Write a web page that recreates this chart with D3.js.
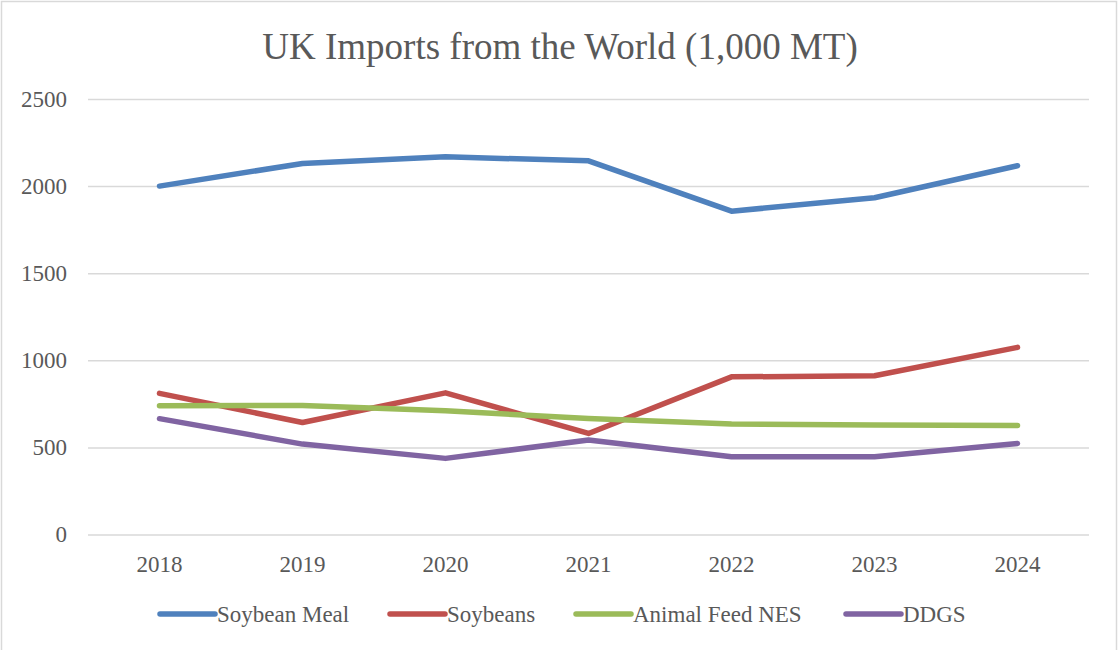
<!DOCTYPE html>
<html>
<head>
<meta charset="utf-8">
<script src="https://cdn.jsdelivr.net/npm/d3@7"></script>
<style>
    body { margin: 0; background: #fff; }
</style>
</head>
<body>
<div id="chart"></div>
<script>
`use strict`

// data
const years = ['2018', '2019', '2020', '2021', '2022', '2023', '2024'];
const seriesNames = ['Soybean Meal', 'Soybeans', 'Animal Feed NES', 'DDGS'];
const soybeanMeal = [2000, 2130, 2168, 2145, 1856, 1933, 2117];
const soybeans = [810, 643, 813, 580, 905, 911, 1074];
const animalFeedNes = [739, 741, 710, 666, 634, 628, 626];
const ddgs = [665, 519, 437, 542, 446, 446, 523];
const yTicks = [0, 500, 1000, 1500, 2000, 2500];

const seriesValues = [soybeanMeal, soybeans, animalFeedNes, ddgs];
const seriesColors = ['#4f81bd', '#c0504d', '#9bbb59', '#8064a2'];

// svg
const SVG_WIDTH = 1120;
const SVG_HEIGHT = 650;
const PLOT = {left: 88, right: 1089, top: 99, bottom: 534.5};
const FONT = '"Liberation Serif", "Times New Roman", serif';
const TEXT_COLOR = '#595959';

const svg = d3.select('#chart')
    .append('svg')
    .attr('width', SVG_WIDTH)
    .attr('height', SVG_HEIGHT)
    .style('font-family', FONT)
;

// border
svg.append('rect')
    .attr('x', 1.5)
    .attr('y', 1.5)
    .attr('width', SVG_WIDTH - 5)
    .attr('height', SVG_HEIGHT)
    .attr('fill', 'none')
    .attr('stroke', '#d9d9d9')
    .attr('stroke-width', 1.5)
;

// title
svg.append('text')
    .text('UK Imports from the World (1,000 MT)')
    .attr('x', 560)
    .attr('y', 59)
    .attr('text-anchor', 'middle')
    .attr('font-size', 37)
    .attr('fill', TEXT_COLOR)
;

// scales
const x = d3.scaleBand()
    .domain(years)
    .range([PLOT.left, PLOT.right])
;
const y = d3.scaleLinear()
    .domain([0, 2500])
    .range([PLOT.bottom, PLOT.top])
;

// gridlines + y labels
const yAxis = svg.append('g')
    .attr('transform', `translate(${PLOT.left},0)`)
    .call(d3.axisLeft(y)
        .tickValues(yTicks)
        .tickSize(-(PLOT.right - PLOT.left))
        .tickPadding(21)
        .tickFormat(d3.format('d')))
;
yAxis.select('.domain').remove();
yAxis.selectAll('line')
    .attr('stroke', '#d9d9d9')
    .attr('stroke-width', 1.5)
;
yAxis.selectAll('text')
    .attr('font-family', FONT)
    .attr('font-size', 23)
    .attr('fill', TEXT_COLOR)
;

// x labels
const xAxis = svg.append('g')
    .attr('transform', `translate(0,${PLOT.bottom})`)
    .call(d3.axisBottom(x).tickSize(0).tickPadding(21))
;
xAxis.select('.domain').remove();
xAxis.selectAll('text')
    .attr('font-family', FONT)
    .attr('font-size', 23)
    .attr('fill', TEXT_COLOR)
;

// lines
const line = d3.line()
    .x((d, i) => x(years[i]) + x.bandwidth() / 2)
    .y(d => y(d))
;
svg.append('g')
    .selectAll('path')
    .data(seriesValues)
    .join('path')
    .attr('d', line)
    .attr('fill', 'none')
    .attr('stroke', (d, i) => seriesColors[i])
    .attr('stroke-width', 5.5)
    .attr('stroke-linecap', 'round')
    .attr('stroke-linejoin', 'round')
;

// legend
const legendX = [160, 390, 576, 846];
const legendY = 614;
const legend = svg.append('g');
for (let i = 0; i < seriesNames.length; i++) {
    legend.append('line')
        .attr('x1', legendX[i])
        .attr('x2', legendX[i] + 55)
        .attr('y1', legendY)
        .attr('y2', legendY)
        .attr('stroke', seriesColors[i])
        .attr('stroke-width', 5.5)
        .attr('stroke-linecap', 'round')
    ;
    legend.append('text')
        .text(seriesNames[i])
        .attr('x', legendX[i] + 57)
        .attr('y', legendY)
        .attr('dy', '0.33em')
        .attr('font-size', 23)
        .attr('fill', TEXT_COLOR)
    ;
}
</script>
</body>
</html>
